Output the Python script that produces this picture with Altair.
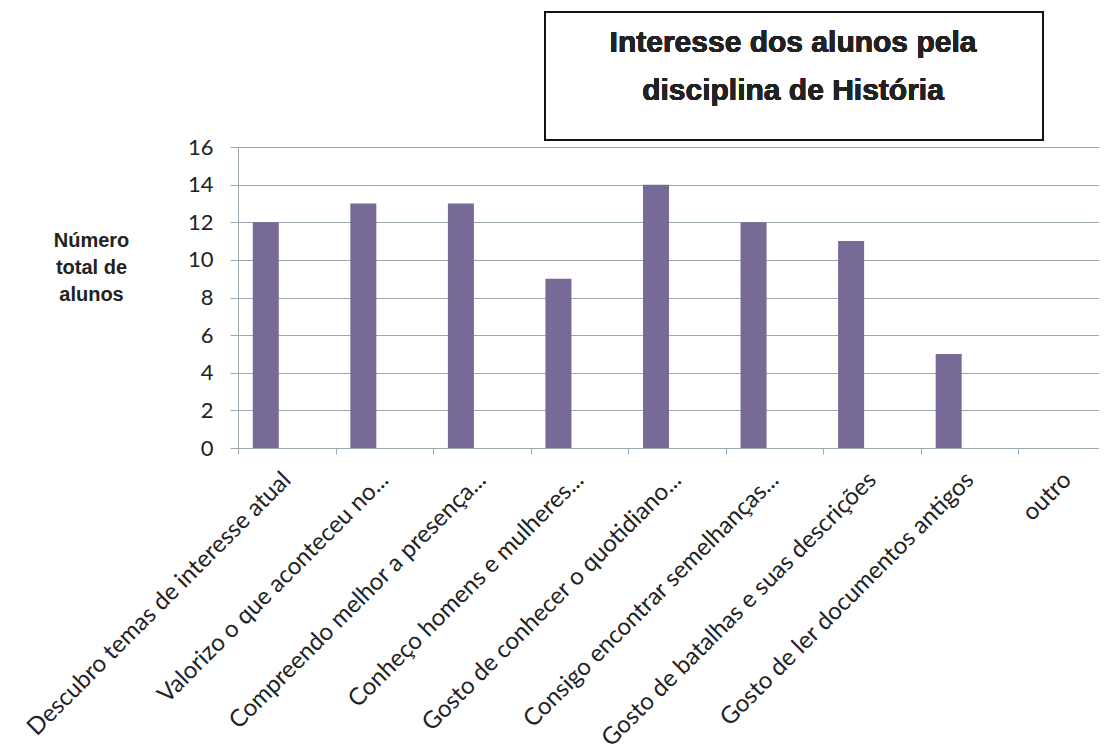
import altair as alt
import pandas as pd

categories = [
    "Descubro temas de interesse atual",
    "Valorizo o que aconteceu no...",
    "Compreendo melhor a presença...",
    "Conheço homens e mulheres...",
    "Gosto de conhecer o quotidiano...",
    "Consigo encontrar semelhanças...",
    "Gosto de batalhas e suas descrições",
    "Gosto de ler documentos antigos",
    "outro",
]
values = [12, 13, 13, 9, 14, 12, 11, 5, 0]
y_ticks = [0, 2, 4, 6, 8, 10, 12, 14, 16]

df = pd.DataFrame({"categoria": categories, "alunos": values})

W, H = 878, 301
grid_color = "#9AAAB0"

bars = alt.Chart(df).mark_bar(color="#776A97", width=26, xOffset=-21).encode(
    x=alt.X(
        "categoria:N",
        sort=categories,
        scale=alt.Scale(paddingInner=0, paddingOuter=0),
        axis=alt.Axis(
            title=None,
            labelAngle=-45,
            labelAlign="right",
            labelBaseline="middle",
            labelFont="Lato",
            labelFontSize=24,
            labelColor="#222222",
            labelPadding=22,
            labelOffset=0,
            labelLimit=500,
            tickBand="extent",
            tickSize=6,
            tickColor=grid_color,
            domainColor=grid_color,
            grid=False,
        ),
    ),
    y=alt.Y(
        "alunos:Q",
        scale=alt.Scale(domain=[0, 16], nice=False),
        axis=alt.Axis(
            values=y_ticks,
            title=["Número", "total de", "alunos"],
            titleAngle=0,
            titleFont="Liberation Sans",
            titleFontSize=20,
            titleFontWeight="bold",
            titleColor="#222222",
            titleAlign="center",
            titleBaseline="middle",
            titleX=-147,
            titleY=93,
            titleLineHeight=27,
            labelFont="Lato",
            labelFontSize=22,
            labelColor="#222222",
            labelPadding=17,
            tickSize=8,
            tickColor=grid_color,
            domainColor=grid_color,
            gridColor=grid_color,
            gridWidth=1.2,
        ),
    ),
)

box = alt.Chart(df).mark_rect(
    fill="white", stroke="#111111", strokeWidth=2, clip=False
).encode(
    x=alt.value(307), x2=alt.value(805), y=alt.value(-135), y2=alt.value(-7)
)

title_text = alt.Chart(df).mark_text(
    font="Liberation Sans",
    fontSize=30,
    fontWeight="bold",
    color="#222222",
    align="center",
    baseline="middle",
    lineHeight=48,
    clip=False,
).encode(
    x=alt.value(555),
    y=alt.value(-104),
    text=alt.value(["Interesse dos alunos pela", "disciplina de História"]),
)

chart = (
    alt.layer(bars, box, title_text)
    .properties(
        width=W,
        height=H,
        autosize=alt.AutoSizeParams(type="none"),
        padding={"left": 230, "top": 139, "right": -17, "bottom": 299},
    )
    .configure_view(stroke=None)
    .configure(background="white")
)

chart.save("out.html", embed_options={"renderer": "svg", "actions": False})
